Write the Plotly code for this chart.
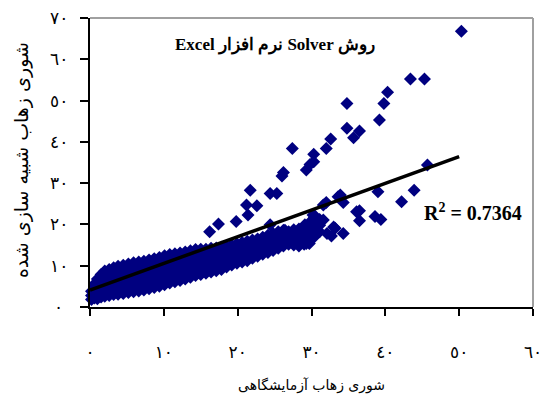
import plotly.graph_objects as go

# ---- data ----
# dense lower band: column x positions and the y values of the diamonds in each column
band_col_x = [0.2, 0.6, 1.0, 1.5, 2.0, 2.6, 3.2, 3.8, 4.5, 5.2, 5.9, 6.6, 7.3, 8.0, 8.7,
              9.4, 10.1, 10.8, 11.5, 12.2, 12.9, 13.6, 14.3, 15.0, 15.7, 16.4, 17.1,
              17.8, 18.5, 19.2, 19.9, 20.6, 21.3, 22.0, 22.7, 23.4, 24.1, 24.8, 25.5,
              26.2, 26.9, 27.6, 28.3, 29.0, 29.7, 30.4, 31.1]
band_col_y = [
    [1.8, 2.8, 3.8],
    [2.2, 3.4, 4.6, 5.6],
    [2.0, 3.2, 4.4, 5.6, 6.8],
    [2.4, 3.8, 5.2, 6.6, 7.9],
    [2.6, 4.1, 5.6, 7.1, 8.7],
    [2.8, 4.4, 6.0, 7.6, 9.1],
    [3.0, 4.6, 6.2, 7.9, 9.5],
    [3.1, 4.8, 6.4, 8.1, 9.9],
    [3.3, 5.0, 6.7, 8.4, 10.1],
    [3.5, 5.2, 6.9, 8.6, 10.4],
    [3.7, 5.4, 7.1, 8.9, 10.7],
    [3.9, 5.6, 7.4, 9.1, 10.9],
    [4.1, 5.8, 7.6, 9.4, 11.1],
    [4.4, 6.1, 7.9, 9.7, 11.4],
    [4.7, 6.4, 8.2, 10.0, 11.7],
    [5.0, 6.7, 8.5, 10.3, 12.0],
    [5.4, 7.1, 8.9, 10.7, 12.4],
    [5.8, 7.4, 9.1, 10.9, 12.7],
    [6.1, 7.7, 9.4, 11.2, 12.9],
    [6.4, 8.0, 9.7, 11.5, 13.1],
    [6.8, 8.4, 10.1, 11.8, 13.3],
    [7.2, 8.8, 10.5, 12.1, 13.6],
    [7.6, 9.3, 10.9, 12.4, 13.9],
    [7.9, 9.6, 11.2, 12.6, 14.0],
    [8.2, 9.9, 11.5, 12.9, 14.0],
    [8.5, 10.1, 11.8, 13.2, 14.2],
    [8.8, 10.4, 12.0, 13.4, 14.3],
    [9.1, 10.7, 12.3, 13.7, 14.5],
    [9.7, 11.2, 12.6, 13.9, 14.7],
    [10.2, 11.5, 12.9, 14.2, 15.0],
    [10.6, 11.9, 13.2, 14.5, 15.3],
    [10.9, 12.2, 13.5, 14.8, 15.6],
    [11.2, 12.5, 13.8, 15.1, 15.9],
    [11.8, 13.0, 14.2, 15.4, 16.2],
    [12.3, 13.4, 14.6, 15.8, 16.5],
    [12.8, 13.9, 15.0, 16.2, 16.9],
    [13.2, 14.3, 15.5, 16.6, 17.4],
    [13.7, 14.8, 15.9, 17.0, 17.8],
    [14.2, 15.3, 16.3, 17.4, 18.2],
    [14.8, 15.8, 16.8, 17.8, 18.6],
    [15.2, 16.2, 17.2, 18.2],
    [15.0, 16.2, 17.5, 18.7],
    [14.8, 16.0, 17.3, 18.9],
    [15.2, 16.6, 18.0, 19.5],
    [15.4, 17.3, 18.8, 20.4],
    [17.0, 18.6, 20.2, 21.6],
    [18.2, 19.8, 21.2],
]

# scattered points away from the band
scatter_x = [50.3, 43.4, 45.3, 40.3, 39.8, 34.8, 39.2, 34.8, 36.5, 35.7, 32.6, 32.0,
             27.4, 30.3, 30.3, 29.3, 29.8, 26.0, 26.2, 21.7, 24.4, 25.3, 21.2, 22.6,
             21.4, 17.4, 19.8, 16.2, 24.4,
             45.7, 43.9, 42.2, 39.0, 33.9, 33.6, 34.3, 32.0, 31.6, 36.5, 36.1, 36.5,
             38.6, 39.4, 30.5, 30.2, 31.6, 29.1, 33.2, 33.0, 34.3, 32.7, 32.1, 29.3,
             28.7, 28.0, 27.5, 26.4]
scatter_y = [66.8, 55.2, 55.2, 52.0, 49.3, 49.3, 45.3, 43.3, 42.6, 41.0, 40.7, 38.4,
             38.4, 37.0, 35.2, 33.2, 34.5, 31.7, 32.6, 28.3, 27.5, 27.5, 24.7, 24.5,
             22.3, 20.1, 20.7, 18.2, 19.9,
             34.4, 28.3, 25.5, 27.9, 27.1, 26.7, 25.3, 25.3, 24.7, 23.3, 23.1, 20.9,
             21.9, 21.2, 22.0, 22.3, 21.1, 19.9, 19.1, 19.4, 17.8, 17.2, 17.8, 15.4,
             17.0, 17.4, 16.2, 18.6]

# linear trend line
trend_x = [0.0, 50.0]
trend_y = [4.1, 36.4]
r2_text = "R<sup>2</sup> = 0.7364"

x_tickvals = [0, 10, 20, 30, 40, 50, 60]
x_ticktext = ["٠", "١٠", "٢٠", "٣٠", "٤٠", "٥٠", "٦٠"]
y_tickvals = [0, 10, 20, 30, 40, 50, 60, 70]
y_ticktext = ["٠", "١٠", "٢٠", "٣٠", "٤٠", "٥٠", "٦٠", "٧٠"]

title_text = "Excel نرم افزار Solver روش"
x_title = "شوری زهاب آزمایشگاهی"
y_title = "شوری زهاب شبیه سازی شده"

# ---- build ----
all_x, all_y = [], []
for cx, ys in zip(band_col_x, band_col_y):
    for yv in ys:
        all_x.append(cx)
        all_y.append(yv)
all_x += scatter_x
all_y += scatter_y

navy = "#000080"
fig = go.Figure()
fig.add_trace(go.Scatter(
    x=all_x, y=all_y, mode="markers",
    marker=dict(symbol="diamond", size=10, color=navy, line=dict(width=0)),
    cliponaxis=False, showlegend=False, hoverinfo="skip"))
fig.add_trace(go.Scatter(
    x=trend_x, y=trend_y, mode="lines",
    line=dict(color="black", width=3.5),
    cliponaxis=False, showlegend=False, hoverinfo="skip"))

tick_font = dict(family="DejaVu Sans", size=17, color="black")
fig.update_xaxes(
    range=[0, 60], tickvals=x_tickvals, ticktext=x_ticktext, automargin=False,
    showgrid=False, zeroline=False, showline=True, linecolor="black", linewidth=2,
    ticks="outside", ticklen=7, tickwidth=2, tickcolor="black",
    tickfont=tick_font, ticklabelstandoff=22)
fig.update_yaxes(
    range=[0, 70], tickvals=y_tickvals, showticklabels=False, automargin=False,
    showgrid=False, zeroline=False, showline=True, linecolor="black", linewidth=2,
    ticks="outside", ticklen=8, tickwidth=2, tickcolor="black")

annotations = [
    dict(text="<b>" + title_text + "</b>", xref="paper", yref="paper",
         x=0.418, y=0.907, xanchor="center", yanchor="middle", showarrow=False,
         font=dict(family="Liberation Serif", size=17, color="black")),
    dict(text="<b>" + r2_text + "</b>", xref="paper", yref="paper",
         x=0.865, y=0.329, xanchor="center", yanchor="middle", showarrow=False,
         font=dict(family="Liberation Serif", size=20, color="black")),
    dict(text=x_title, xref="paper", yref="paper", x=0.5, y=-0.27,
         xanchor="center", yanchor="middle",
         showarrow=False, font=dict(family="DejaVu Sans", size=14, color="black")),
    dict(text=y_title, xref="paper", yref="paper", x=-0.153, y=0.509,
         xanchor="center", yanchor="middle",
         textangle=-90, showarrow=False,
         font=dict(family="DejaVu Sans", size=19, color="black")),
]
# y tick labels placed on the y scale
for v, t in zip(y_tickvals, y_ticktext):
    annotations.append(dict(text=t, xref="paper", yref="y", x=-0.07, y=v,
                            xanchor="center", yanchor="middle", showarrow=False,
                            font=tick_font))

fig.update_layout(
    width=543, height=410,
    margin=dict(l=90, r=10, t=18, b=103),
    plot_bgcolor="white", paper_bgcolor="white",
    shapes=[
        dict(type="line", xref="paper", yref="paper", x0=0, x1=1, y0=1, y1=1,
             line=dict(color="#a0a0a0", width=2), layer="below"),
        dict(type="line", xref="paper", yref="paper", x0=1, x1=1, y0=0, y1=1,
             line=dict(color="#a0a0a0", width=2), layer="below"),
    ],
    annotations=annotations,
)

fig.write_html("out.html", config={"displayModeBar": False},
               post_script="document.body.style.margin='0px';")
